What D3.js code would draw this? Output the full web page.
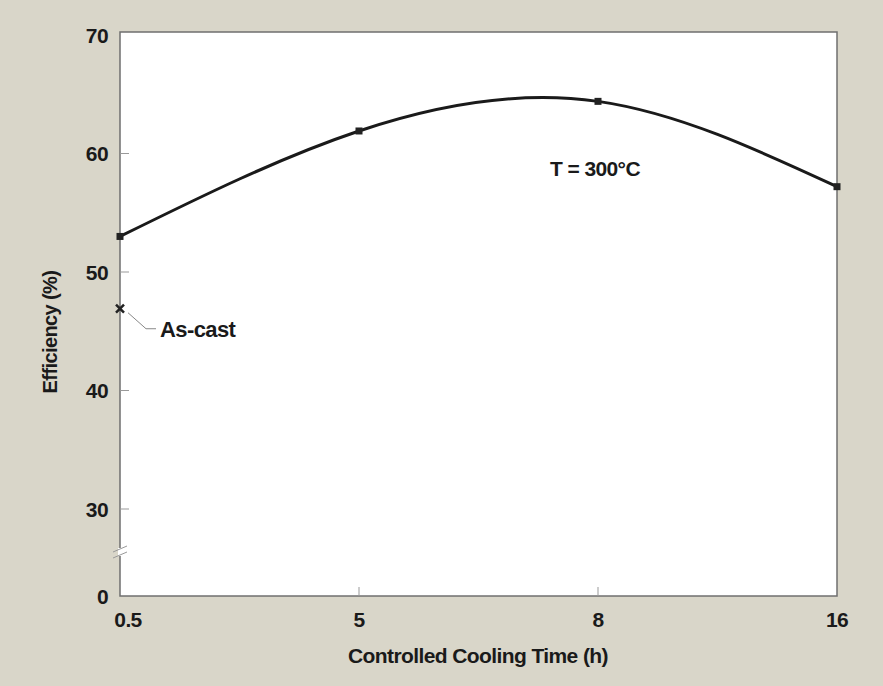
<!DOCTYPE html>
<html><head><meta charset="utf-8">
<script src="https://cdn.jsdelivr.net/npm/d3@7"></script>
<style>
html,body{margin:0;padding:0;background:#d9d6c9;}
text{font-family:"Liberation Sans",Arial,sans-serif;font-weight:bold;fill:#1a1a1a;letter-spacing:-0.6px;}
</style></head>
<body><svg id="c" width="883" height="686"></svg>
<script>
const categories = ["0.5","5","8","16"];
const efficiency = [53.0, 61.9, 64.4, 57.2];
const asCast = {cat:"0.5", value:46.9, label:"As-cast"};
const yTicks = [0, 30, 40, 50, 60, 70];
const annotation = "T = 300°C";

const svg = d3.select("#c");
const L=120, R=837, T=32, B=596;
svg.append("rect").attr("width",883).attr("height",686).attr("fill","#d9d6c9");
svg.append("rect").attr("x",L).attr("y",T).attr("width",R-L).attr("height",B-T)
  .attr("fill","#fff").attr("stroke","#6f6f6f").attr("stroke-width",1.5);

const x = d3.scalePoint().domain(categories).range([L,R]);
const y = d3.scaleLinear().domain([0,30,70]).range([B,509,35]);

yTicks.forEach(t=>{
  if(t>0 && t<70) svg.append("line").attr("x1",L).attr("x2",L+9).attr("y1",y(t)).attr("y2",y(t)).attr("stroke","#999").attr("stroke-width",1);
  svg.append("text").attr("x",108).attr("y",y(t)).attr("dy","0.36em").attr("text-anchor","end").attr("font-size",21).text(t);
});
categories.forEach((c,i)=>{
  if(i>0 && i<categories.length-1) svg.append("line").attr("x1",x(c)).attr("x2",x(c)).attr("y1",B).attr("y2",B-9).attr("stroke","#999").attr("stroke-width",1);
  const dx = i===0 ? 8 : 0;
  svg.append("text").attr("x",x(c)+dx).attr("y",627).attr("text-anchor","middle").attr("font-size",21).text(c);
});

const by = 552;
svg.append("rect").attr("x",L-2).attr("y",by-4).attr("width",4).attr("height",8).attr("fill","#fff");
[-3,3].forEach(o=>{
  svg.append("line").attr("x1",L-7).attr("x2",L+7).attr("y1",by+o+3).attr("y2",by+o-3).attr("stroke","#999").attr("stroke-width",1);
});

const pts = categories.map((c,i)=>[x(c), y(efficiency[i])]);
svg.append("path").attr("d", d3.line().curve(d3.curveNatural)(pts))
  .attr("fill","none").attr("stroke","#1a1a1a").attr("stroke-width",3);
pts.forEach(p=>svg.append("rect").attr("x",p[0]-3.5).attr("y",p[1]-3.5).attr("width",7).attr("height",7).attr("fill","#222"));

const ax = x(asCast.cat), ay = y(asCast.value);
svg.append("path").attr("d",`M${ax-4},${ay-4}L${ax+4},${ay+4}M${ax-4},${ay+4}L${ax+4},${ay-4}`).attr("stroke","#222").attr("stroke-width",2.5);
svg.append("path").attr("d",`M${ax+8},${ay+4}L${ax+26},${ay+20}L${ax+36},${ay+20}`).attr("fill","none").attr("stroke","#888").attr("stroke-width",1);
svg.append("text").attr("x",ax+40).attr("y",ay+28).attr("font-size",22).text(asCast.label);

svg.append("text").attr("x",595).attr("y",176).attr("text-anchor","middle").attr("font-size",21).text(annotation);

svg.append("text").attr("x",478).attr("y",663).attr("text-anchor","middle").attr("font-size",21).text("Controlled Cooling Time (h)");
svg.append("text").attr("transform","translate(57,332) rotate(-90)").attr("text-anchor","middle").attr("font-size",20).text("Efficiency (%)");
</script></body></html>
